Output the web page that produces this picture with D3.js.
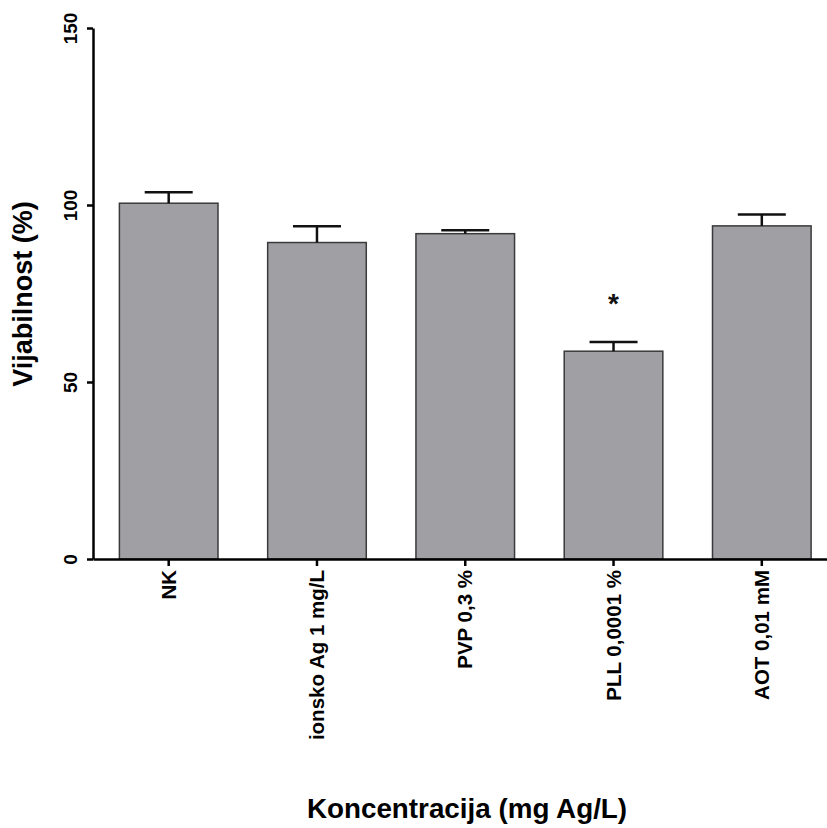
<!DOCTYPE html>
<html>
<head>
<meta charset="utf-8">
<script src="https://cdn.jsdelivr.net/npm/d3@7"></script>
<style>
  html, body { margin: 0; padding: 0; background: #fff; }
  svg { display: block; font-family: "Liberation Sans", Arial, sans-serif; }
</style>
</head>
<body>
<svg id="chart" width="827" height="828"></svg>
<script>
const categories = ["NK", "ionsko Ag 1 mg/L", "PVP 0,3 %", "PLL 0,0001 %", "AOT 0,01 mM"];
const means = [100.5, 89.4, 91.9, 58.7, 94.1];
const errors = [3.1, 4.6, 1.0, 2.6, 3.2];
const significant = [false, false, false, true, false];
const yTicks = [0, 50, 100, 150];
const yTitle = "Vijabilnost (%)";
const xTitle = "Koncentracija (mg Ag/L)";

const data = categories.map((c, i) => ({ c, m: means[i], e: errors[i], s: significant[i] }));

const svg = d3.select("#chart");
const x = d3.scaleBand().domain(categories).range([93, 837.5]).paddingInner(0.335).paddingOuter(0.178);
const y = d3.scaleLinear().domain([0, 150]).range([559, 28]);

// bars
svg.append("g").selectAll("rect").data(data).join("rect")
  .attr("x", d => x(d.c))
  .attr("y", d => y(d.m))
  .attr("width", x.bandwidth())
  .attr("height", d => y(0) - y(d.m))
  .attr("fill", "#a09fa4")
  .attr("stroke", "#3a3a3a")
  .attr("stroke-width", 1.5);

// error bars
const eg = svg.append("g").attr("stroke", "#111").attr("stroke-width", 2.5);
const capW = 48;
eg.selectAll("line.v").data(data).join("line").attr("class", "v")
  .attr("x1", d => x(d.c) + x.bandwidth() / 2)
  .attr("x2", d => x(d.c) + x.bandwidth() / 2)
  .attr("y1", d => y(d.m))
  .attr("y2", d => y(d.m + d.e));
eg.selectAll("line.c").data(data).join("line").attr("class", "c")
  .attr("x1", d => x(d.c) + x.bandwidth() / 2 - capW / 2)
  .attr("x2", d => x(d.c) + x.bandwidth() / 2 + capW / 2)
  .attr("y1", d => y(d.m + d.e))
  .attr("y2", d => y(d.m + d.e));

// significance star
svg.append("g").selectAll("text").data(data.filter(d => d.s)).join("text")
  .attr("x", d => x(d.c) + x.bandwidth() / 2)
  .attr("y", d => y(d.m + d.e) - 29)
  .attr("text-anchor", "middle")
  .attr("font-size", 28)
  .attr("font-weight", "bold")
  .attr("fill", "#111")
  .text("*");

// y axis
const yAxis = svg.append("g").attr("transform", "translate(93,0)")
  .call(d3.axisLeft(y).tickValues(yTicks).tickSize(6).tickSizeOuter(0));
yAxis.select(".domain").attr("stroke", "#000").attr("stroke-width", 2.5);
yAxis.selectAll(".tick line").attr("stroke", "#000").attr("stroke-width", 2.5);
yAxis.selectAll(".tick text")
  .attr("x", null).attr("dy", null)
  .attr("transform", "translate(-16,0) rotate(-90)")
  .attr("text-anchor", "middle")
  .attr("font-size", 19)
  .attr("font-weight", "bold")
  .attr("fill", "#000");

// x axis
const xAxis = svg.append("g").attr("transform", "translate(0,559)")
  .call(d3.axisBottom(x).tickSize(7).tickSizeOuter(0));
xAxis.select(".domain").attr("stroke", "#000").attr("stroke-width", 2.5);
xAxis.selectAll(".tick line").attr("stroke", "#000").attr("stroke-width", 2.5);
xAxis.selectAll(".tick text")
  .attr("y", null).attr("dy", null)
  .attr("transform", "translate(7,11) rotate(-90)")
  .attr("text-anchor", "end")
  .attr("font-size", 20.5)
  .attr("font-weight", "bold")
  .attr("fill", "#000");

// axis titles
svg.append("text")
  .attr("transform", "translate(32,294) rotate(-90)")
  .attr("text-anchor", "middle")
  .attr("font-size", 27)
  .attr("font-weight", "bold")
  .attr("fill", "#000")
  .text(yTitle);

svg.append("text")
  .attr("x", 467).attr("y", 818)
  .attr("text-anchor", "middle")
  .attr("font-size", 27.8)
  .attr("font-weight", "bold")
  .attr("fill", "#000")
  .text(xTitle);
</script>
</body>
</html>
